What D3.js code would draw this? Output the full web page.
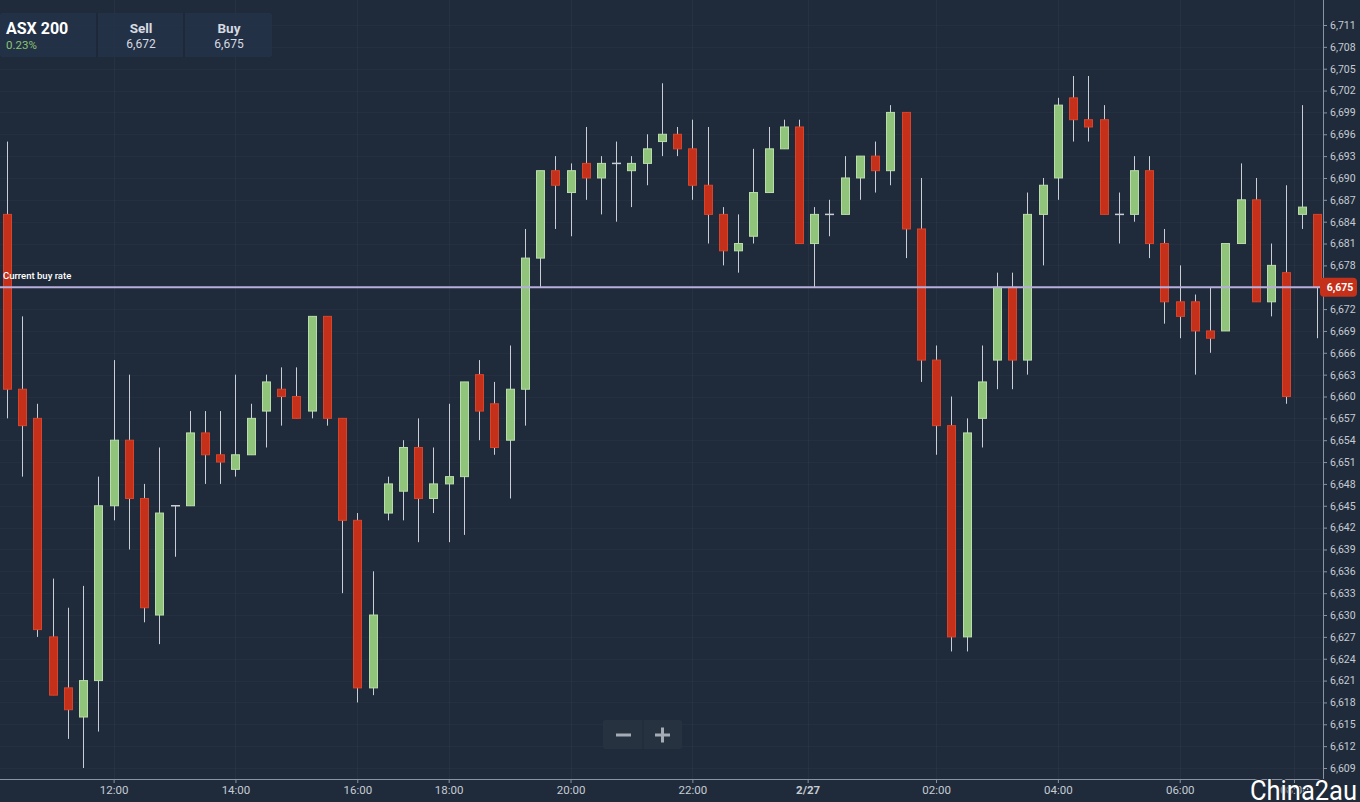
<!DOCTYPE html>
<html><head><meta charset="utf-8">
<script src="https://cdn.jsdelivr.net/npm/d3@7"></script>
<style>
html,body{margin:0;padding:0;background:#1f2b3b;}
svg{display:block;}
text{font-family:Roboto,"Noto Sans",sans-serif;}
</style></head>
<body>
<svg id="chart" width="1360" height="802"></svg>
<script>
// ---- data (15-minute candles, ASX 200) ----
const opens  = [6685,6661,6657,6627,6620,6616,6621,6645,6654,6646,6630,6645,6645,6655,6652,6650,6652,6658,6661,6660,6658,6671,6657,6643,6620,6644,6647,6653,6646,6648,6649,6663,6659,6654,6661,6679,6691,6688,6692,6690,6692,6691,6692,6695,6696,6694,6689,6685,6680,6682,6688,6694,6697,6681,6685,6685,6690,6693,6691,6699,6683,6665,6656,6627,6657,6665,6675,6665,6685,6690,6701,6698,6698,6685,6685,6691,6681,6673,6673,6669,6669,6681,6687,6673,6677,6685,6685];
const highs  = [6695,6671,6659,6635,6631,6634,6649,6665,6663,6648,6653,6645,6658,6658,6658,6663,6659,6663,6664,6664,6671,6671,6657,6644,6636,6649,6654,6657,6653,6659,6662,6665,6662,6667,6683,6691,6693,6692,6697,6693,6695,6693,6696,6703,6697,6698,6697,6686,6685,6694,6697,6698,6698,6686,6687,6693,6693,6695,6700,6699,6690,6667,6660,6657,6667,6677,6677,6688,6690,6701,6704,6704,6700,6688,6693,6693,6683,6678,6674,6675,6681,6692,6690,6681,6689,6700,6685];
const lows   = [6657,6649,6627,6619,6613,6609,6614,6643,6639,6629,6626,6638,6645,6648,6648,6649,6652,6653,6656,6657,6657,6656,6633,6618,6619,6643,6643,6640,6644,6640,6641,6654,6652,6646,6656,6675,6683,6682,6687,6685,6684,6686,6689,6693,6693,6687,6681,6678,6677,6681,6688,6694,6681,6675,6682,6685,6687,6688,6689,6679,6662,6652,6625,6625,6653,6661,6661,6663,6678,6687,6695,6695,6685,6681,6684,6679,6670,6668,6663,6666,6669,6681,6673,6671,6659,6683,6668];
const closes = [6661,6656,6628,6619,6617,6621,6645,6654,6646,6631,6644,6645,6655,6652,6651,6652,6657,6662,6660,6657,6671,6657,6643,6620,6630,6648,6653,6646,6648,6649,6662,6658,6653,6661,6679,6691,6689,6691,6690,6692,6692,6692,6694,6696,6694,6689,6685,6680,6681,6688,6694,6697,6681,6685,6685,6690,6693,6691,6699,6683,6665,6656,6627,6655,6662,6675,6665,6685,6689,6700,6698,6697,6685,6685,6691,6681,6673,6671,6669,6668,6681,6687,6673,6678,6660,6686,6675];

const timeTickPos    = [7, 15, 23, 29, 37, 45, 52.57, 61, 69, 77, 84.5];
const timeTickLabels = ["12:00","14:00","16:00","18:00","20:00","22:00","2/27","02:00","04:00","06:00","08:00"];
const priceTicks = d3.range(6609, 6712, 3);

const instrument = "ASX 200";
const changePct = "0.23%";
const sellPrice = 6672;
const buyPrice = 6675;

// ---- layout ----
const W = 1360, H = 802;
const plotRight = 1323, plotBottom = 779;
const bg = "#1f2b3b";
const svg = d3.select("#chart");

const candles = opens.map((o, i) => ({i, o, h: highs[i], l: lows[i], c: closes[i]}));
const x = d3.scaleLinear().domain([0, 86]).range([7, 1316.8]);
const y = d3.scaleLinear().domain([6609, 6711]).range([768, 25]);

svg.append("rect").attr("width", W).attr("height", H).attr("fill", bg);

// grid
const grid = svg.append("g");
grid.selectAll("line.h").data(priceTicks).join("line")
  .attr("x1", 0).attr("x2", plotRight)
  .attr("y1", d => Math.round(y(d)) + 0.5).attr("y2", d => Math.round(y(d)) + 0.5)
  .attr("stroke", "#ffffff").attr("stroke-opacity", 0.025);
grid.selectAll("line.v").data(timeTickPos).join("line")
  .attr("y1", 0).attr("y2", plotBottom)
  .attr("x1", d => Math.round(x(d)) + 0.5).attr("x2", d => Math.round(x(d)) + 0.5)
  .attr("stroke", "#ffffff").attr("stroke-opacity", 0.035);

// candles
const bw = 9;
const cg = svg.append("g");
cg.selectAll("line.wick").data(candles).join("line")
  .attr("x1", d => Math.round(x(d.i)) + 0.5).attr("x2", d => Math.round(x(d.i)) + 0.5)
  .attr("y1", d => y(d.h)).attr("y2", d => y(d.l))
  .attr("stroke", "#c9ced6").attr("stroke-width", 1);
cg.selectAll("rect.body").data(candles.filter(d => d.o !== d.c)).join("rect")
  .attr("x", d => Math.round(x(d.i)) - 4 + 0.5)
  .attr("width", bw - 1)
  .attr("y", d => y(Math.max(d.o, d.c)))
  .attr("height", d => Math.abs(y(d.o) - y(d.c)))
  .attr("fill", d => d.c > d.o ? "#8fc47a" : "#c4301a")
  .attr("stroke", d => d.c > d.o ? "#b9dcaa" : "#d8442a")
  .attr("stroke-width", 1);
cg.selectAll("line.doji").data(candles.filter(d => d.o === d.c)).join("line")
  .attr("x1", d => Math.round(x(d.i)) - 4).attr("x2", d => Math.round(x(d.i)) + 5)
  .attr("y1", d => y(d.o)).attr("y2", d => y(d.o))
  .attr("stroke", "#c9ced6").attr("stroke-width", 1.5);

// current buy rate line
const by = y(buyPrice);
svg.append("line").attr("x1", 0).attr("x2", plotRight).attr("y1", by).attr("y2", by)
  .attr("stroke", "#b8aedb").attr("stroke-width", 2);
svg.append("text").attr("x", 3).attr("y", by - 8).text("Current buy rate")
  .attr("fill", "#ffffff").attr("font-size", 9.5).attr("font-weight", 500);

// right axis
svg.append("line").attr("x1", plotRight + 0.5).attr("x2", plotRight + 0.5).attr("y1", 0).attr("y2", plotBottom)
  .attr("stroke", "#8a93a0").attr("stroke-width", 1);
const yAxis = svg.append("g").attr("transform", `translate(${plotRight},0)`)
  .call(d3.axisRight(y).tickValues(priceTicks).tickSize(4).tickPadding(3).tickFormat(d3.format(",")));
yAxis.select(".domain").remove();
yAxis.selectAll(".tick line").attr("stroke", "#8a93a0");
yAxis.selectAll(".tick text").attr("fill", "#c6cbd3").attr("font-size", 10.5).attr("font-family", "Roboto");
// the price tag replaces the tick label at the current buy rate
yAxis.selectAll(".tick").filter(d => d === buyPrice).select("text").remove();

// price tag
const tag = svg.append("g").attr("transform", `translate(1320,${by})`);
tag.append("rect").attr("x", 0).attr("y", -9.5).attr("width", 37).attr("height", 19).attr("rx", 4)
  .attr("fill", "#c4301a");
tag.append("text").attr("x", 20).attr("y", 4).attr("text-anchor", "middle")
  .attr("fill", "#ffffff").attr("font-size", 10.5).attr("font-weight", 700).text(d3.format(",")(buyPrice));

// bottom axis
svg.append("line").attr("x1", 0).attr("x2", plotRight).attr("y1", plotBottom + 0.5).attr("y2", plotBottom + 0.5)
  .attr("stroke", "#8a93a0");
const xAxis = svg.append("g").attr("transform", `translate(0,${plotBottom})`)
  .call(d3.axisBottom(x).tickValues(timeTickPos).tickSize(4).tickPadding(3)
    .tickFormat((d, k) => timeTickLabels[k]));
xAxis.select(".domain").remove();
xAxis.selectAll(".tick line").attr("stroke", "#8a93a0");
xAxis.selectAll(".tick text").attr("fill", "#c6cbd3").attr("font-size", 11.5).attr("font-family", "Roboto")
  .attr("font-weight", (d, k) => timeTickLabels[k] === "2/27" ? 700 : 400);

// header panel
const hp = svg.append("g");
hp.append("rect").attr("x", 0).attr("y", 13).attr("width", 272).attr("height", 44).attr("rx", 3)
  .attr("fill", "#25334a").attr("fill-opacity", 0.85);
hp.append("line").attr("x1", 97).attr("x2", 97).attr("y1", 13).attr("y2", 57).attr("stroke", "#1c2635").attr("stroke-width", 1.5);
hp.append("line").attr("x1", 184).attr("x2", 184).attr("y1", 13).attr("y2", 57).attr("stroke", "#1c2635").attr("stroke-width", 1.5);
hp.append("text").attr("x", 6).attr("y", 34).text(instrument).attr("fill", "#ffffff")
  .attr("font-size", 16).attr("font-weight", 700);
hp.append("text").attr("x", 6).attr("y", 49).text(changePct).attr("fill", "#8cc46f").attr("font-size", 11.5);
hp.append("text").attr("x", 141).attr("y", 33).text("Sell").attr("text-anchor", "middle")
  .attr("fill", "#d6dae0").attr("font-size", 13.5).attr("font-weight", 700);
hp.append("text").attr("x", 141).attr("y", 48).text(d3.format(",")(sellPrice)).attr("text-anchor", "middle")
  .attr("fill", "#d6dae0").attr("font-size", 12);
hp.append("text").attr("x", 229).attr("y", 33).text("Buy").attr("text-anchor", "middle")
  .attr("fill", "#d6dae0").attr("font-size", 13.5).attr("font-weight", 700);
hp.append("text").attr("x", 229).attr("y", 48).text(d3.format(",")(buyPrice)).attr("text-anchor", "middle")
  .attr("fill", "#d6dae0").attr("font-size", 12);

// zoom control
const zc = svg.append("g");
zc.append("rect").attr("x", 603).attr("y", 720).attr("width", 79).attr("height", 29).attr("rx", 2)
  .attr("fill", "#26323f");
zc.append("line").attr("x1", 643).attr("x2", 643).attr("y1", 720).attr("y2", 749).attr("stroke", "#1f2a36");
zc.append("line").attr("x1", 616).attr("x2", 631).attr("y1", 735).attr("y2", 735).attr("stroke", "#a5acb6").attr("stroke-width", 3);
zc.append("line").attr("x1", 655).attr("x2", 670).attr("y1", 735).attr("y2", 735).attr("stroke", "#a5acb6").attr("stroke-width", 3);
zc.append("line").attr("x1", 662.5).attr("x2", 662.5).attr("y1", 727.5).attr("y2", 742.5).attr("stroke", "#a5acb6").attr("stroke-width", 3);

// watermark
svg.append("text").attr("x", 1250).attr("y", 800).text("China2au")
  .attr("font-family", "'Liberation Sans Narrow','DejaVu Sans Condensed',sans-serif")
  .attr("font-size", 27).attr("textLength", 107).attr("lengthAdjust", "spacingAndGlyphs")
  .attr("fill", "#ffffff").attr("stroke", bg).attr("stroke-width", 2).attr("paint-order", "stroke");
</script>
</body></html>
